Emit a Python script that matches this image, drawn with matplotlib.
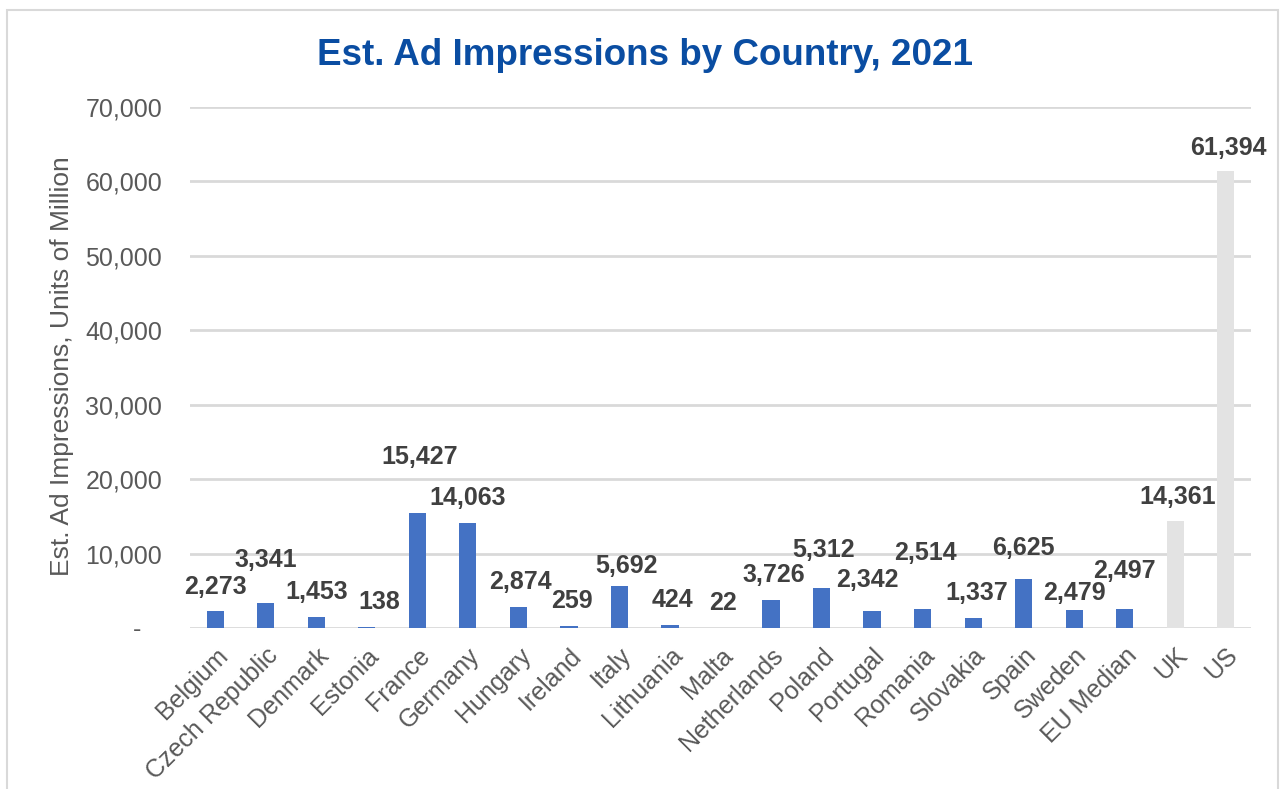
import matplotlib.pyplot as plt
from matplotlib.patches import Rectangle
from matplotlib.ticker import FuncFormatter

plt.rcParams['font.family'] = ['Liberation Sans', 'DejaVu Sans']

countries = ["Belgium", "Czech Republic", "Denmark", "Estonia", "France", "Germany",
             "Hungary", "Ireland", "Italy", "Lithuania", "Malta", "Netherlands",
             "Poland", "Portugal", "Romania", "Slovakia", "Spain", "Sweden",
             "EU Median", "UK", "US"]
impressions = [2273, 3341, 1453, 138, 15427, 14063, 2874, 259, 5692, 424, 22, 3726,
               5312, 2342, 2514, 1337, 6625, 2479, 2497, 14361, 61394]
is_eu = [True] * 19 + [False, False]

# where the value labels sit (data units), as placed in the original chart
label_y = [5500, 9150, 4850, 3500, 22950, 17450, 6200, 3650, 8300, 3750, 3350, 7100,
           10500, 6450, 10100, 4700, 10750, 4700, 7650, 17600, 64500]
label_dx = [0, 0, 0, 0.25, 0.05, 0, 0.05, 0.05, 0.15, 0.05, 0.05, 0.05,
            0.05, -0.1, 0.05, 0.08, 0, 0, 0, 0.05, 0.05]

blue = "#4472C4"
grey_bar = "#E3E3E3"
text_grey = "#595959"
grid_grey = "#D9D9D9"

fig = plt.figure(figsize=(12.81, 7.89), dpi=100)
ax = fig.add_axes([0.1483, 0.2041, 0.8283, 0.6603])

x = list(range(len(countries)))
colors = [blue if eu else grey_bar for eu in is_eu]
ax.bar(x, impressions, width=0.34, color=colors, zorder=3)

for i, v in enumerate(impressions):
    ax.text(i + label_dx[i], label_y[i], f"{v:,}", ha='center', va='center',
            fontsize=18, fontweight='bold', color="#404040")

ax.set_xlim(-0.5, len(countries) - 0.5)
ax.set_ylim(0, 70000)
ax.set_yticks(range(0, 70001, 10000))
ax.yaxis.set_major_formatter(FuncFormatter(lambda v, p: "-   " if v == 0 else f"{int(v):,}"))
ax.grid(axis='y', color=grid_grey, lw=2, zorder=0)
ax.tick_params(axis='y', length=0, pad=20, labelsize=18, labelcolor=text_grey)
ax.tick_params(axis='x', length=0, pad=11, labelsize=18, labelcolor=text_grey)
ax.set_xticks(x)
ax.set_xticklabels(countries, rotation=45, ha='right', rotation_mode='anchor')
for s in ax.spines.values():
    s.set_visible(False)

fig.text(0.5035, 1 - 65 / 789, "Est. Ad Impressions by Country, 2021", ha='center',
         va='baseline', fontsize=26.5, fontweight='bold', color="#0A4DA2")
fig.text(62 / 1281, 1 - 366 / 789, "Est. Ad Impressions, Units of Million", rotation=90,
         ha='center', va='center', fontsize=19, color=text_grey)

fig.patches.append(Rectangle((7 / 1281, -0.02), 1271 / 1281, 0.02 + 1 - 10 / 789,
                             transform=fig.transFigure, fill=False,
                             edgecolor=grid_grey, lw=1.5))

fig.savefig("out.png", dpi=100)
